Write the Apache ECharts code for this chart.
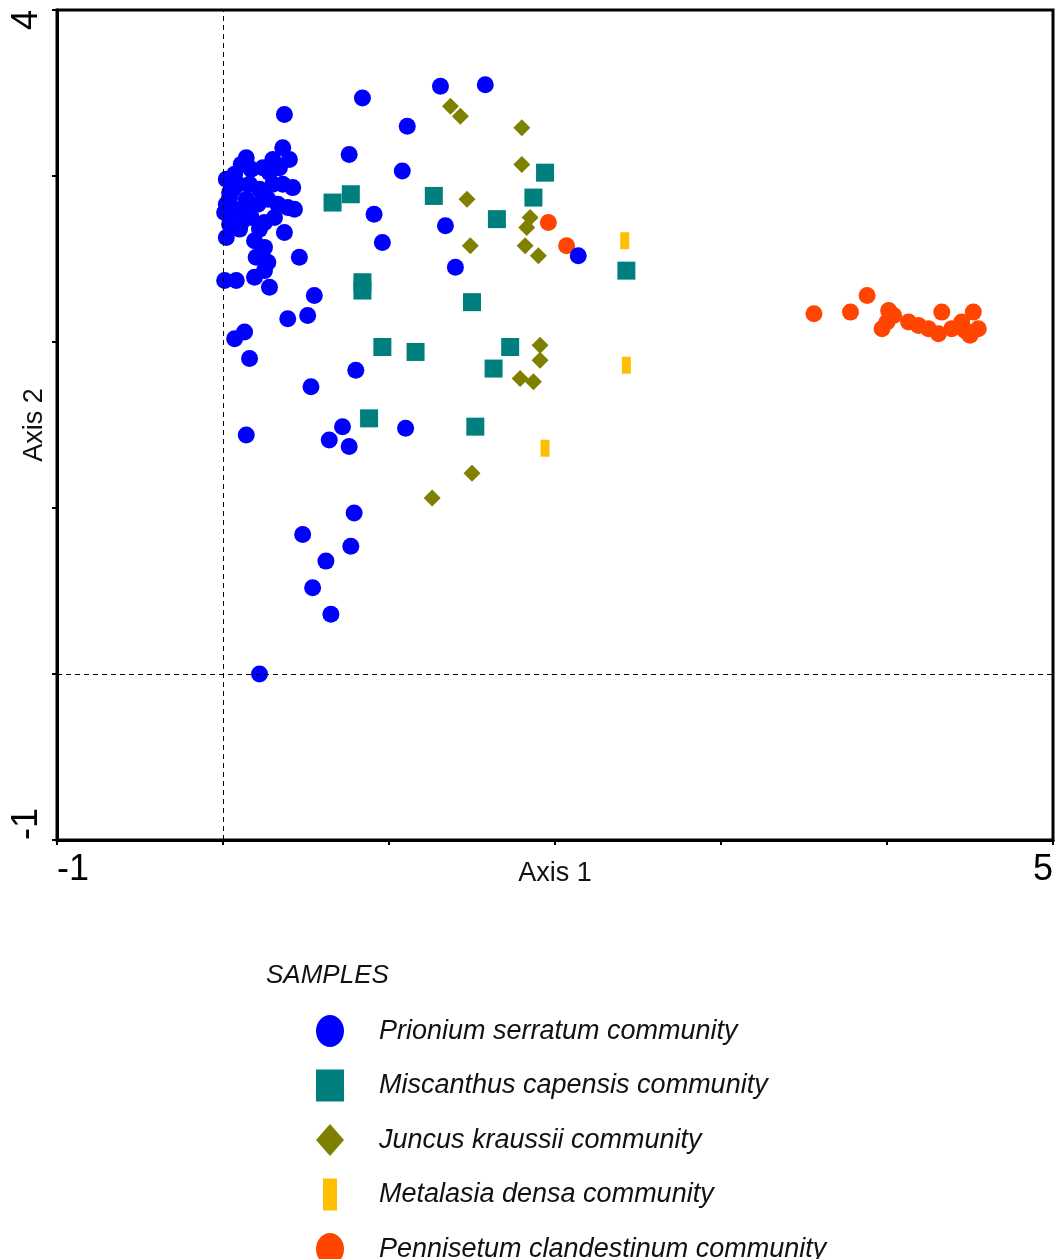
<!DOCTYPE html>
<html>
<head>
<meta charset="utf-8">
<script src="https://cdn.jsdelivr.net/npm/echarts@6/dist/echarts.min.js"></script>
<style>
html,body{margin:0;padding:0;background:#fff;}
#chart{width:1056px;height:1259px;}
</style>
</head>
<body>
<div id="chart"></div>
<script>
// ---- data (Axis 1, Axis 2 scores) ----
const seriesNames = [
  'Prionium serratum community',
  'Miscanthus capensis community',
  'Juncus kraussii community',
  'Metalasia densa community',
  'Pennisetum clandestinum community'
];
const prioniumPts = [
  [0.37,3.37],[0.84,3.47],[1.31,3.54],[1.58,3.55],[1.11,3.30],[0.76,3.13],[1.08,3.03],
  [0.91,2.77],[1.34,2.70],[0.96,2.60],[1.40,2.45],[2.14,2.52],[0.46,2.51],[0.55,2.28],
  [0.51,2.16],[0.39,2.14],[0.07,2.02],[0.13,2.06],[0.16,1.90],[0.80,1.83],[0.53,1.73],
  [0.14,1.44],[0.72,1.49],[0.64,1.41],[0.76,1.37],[1.10,1.48],[0.79,0.97],[0.48,0.84],
  [0.77,0.77],[0.62,0.68],[0.54,0.52],[0.65,0.36],[0.22,0.00],
  [0.14,3.11],[0.11,3.07],[0.07,3.01],[0.02,2.98],[0.17,3.04],[0.24,3.05],[0.28,3.02],
  [0.09,2.95],[0.04,2.90],[0.16,2.95],[0.22,2.92],[0.30,2.95],[0.36,2.95],[0.42,2.93],
  [0.02,2.83],[0.01,2.78],[0.07,2.80],[0.14,2.86],[0.21,2.83],[0.27,2.86],[0.33,2.83],
  [0.39,2.81],[0.43,2.80],[0.04,2.71],[0.11,2.72],[0.17,2.75],[0.25,2.72],[0.31,2.75],
  [0.37,2.66],[0.02,2.63],[0.19,2.61],[0.25,2.57],[0.20,2.51],[0.27,2.48],[0.25,2.43],
  [0.19,2.39],[0.28,2.33],[0.01,2.37],[0.08,2.37],[0.36,3.17],[0.40,3.10],[0.30,3.10],
  [0.34,3.05],[0.04,2.87],[0.10,2.68],[0.22,2.68],[0.12,2.80],[0.06,2.92]
];
const miscanthusPts = [
  [0.66,2.84],[0.77,2.89],[1.27,2.88],[1.65,2.74],[0.84,2.36],[0.84,2.31],[1.50,2.24],
  [1.94,3.02],[1.87,2.87],[2.43,2.43],[0.96,1.97],[1.16,1.94],[1.73,1.97],[1.63,1.84],
  [0.88,1.54],[1.52,1.49]
];
const juncusPts = [
  [1.37,3.42],[1.43,3.36],[1.80,3.29],[1.80,3.07],[1.47,2.86],[1.85,2.75],[1.83,2.69],
  [1.49,2.58],[1.82,2.58],[1.90,2.52],[1.91,1.98],[1.91,1.89],[1.79,1.78],[1.87,1.76],
  [1.50,1.21],[1.26,1.06]
];
const metalasiaPts = [[2.42,2.61],[2.43,1.86],[1.94,1.36]];
const pennisetumPts = [
  [1.96,2.72],[2.07,2.58],[3.56,2.17],[3.78,2.18],[3.88,2.28],[4.01,2.19],[4.04,2.16],
  [3.97,2.08],[4.00,2.12],[4.13,2.12],[4.19,2.10],[4.25,2.08],[4.33,2.18],[4.31,2.05],
  [4.39,2.08],[4.47,2.07],[4.45,2.12],[4.52,2.18],[4.55,2.08],[4.50,2.04]
];
const xTickLabels = {'-1':'-1','5':'5'};
const yTickLabels = {'4':'4','-1':'-1'};
const legendTitle = 'SAMPLES';

// ---- styling ----
const FONT = '"Liberation Sans", Arial, sans-serif';
const colors = ['#0000FF','#007F7F','#808000','#FFBF00','#FF4500'];
const chart = echarts.init(document.getElementById('chart'), null, {renderer:'canvas'});

const legendIcons = [
  'path://M0,16a14,16 0 1,0 28,0a14,16 0 1,0 -28,0z',
  'path://M0,0h28v32h-28z',
  'path://M14,0L28,16L14,32L0,16z',
  'path://M0,0h14v32h-14z',
  'path://M0,16a14,16 0 1,0 28,0a14,16 0 1,0 -28,0z'
];

const option = {
  animation:false,
  backgroundColor:'#fff',
  title:{
    text: legendTitle,
    left: 261, top: 958,
    textStyle:{fontFamily:FONT, fontStyle:'italic', fontWeight:'normal', fontSize:26, color:'#111'}
  },
  legend:{
    orient:'vertical',
    left: 311, top: 1010, height: 320,
    itemWidth: 88, itemHeight: 32, itemGap: 22.5,
    symbolKeepAspect: true,
    selectedMode:false,
    textStyle:{fontFamily:FONT, fontStyle:'italic', fontSize:27, color:'#111'},
    data: seriesNames.map((n,i)=>({name:n, icon:legendIcons[i], itemStyle:{color:colors[i]}}))
  },
  grid:{left:57, right:3, top:10, bottom:419, outerBoundsMode:'none', containLabel:false,
        show:true, borderColor:'#000', borderWidth:3, backgroundColor:'transparent'},
  xAxis:{
    type:'value', min:-1, max:5, interval:1,
    name:'Axis 1', nameLocation:'middle', nameGap:20, nameMoveOverlap:false,
    nameTextStyle:{fontFamily:FONT, fontSize:27, color:'#111'},
    axisLine:{onZero:false, lineStyle:{color:'#000', width:3}},
    axisTick:{show:true, length:5, lineStyle:{color:'#000', width:2}},
    splitLine:{show:false},
    axisLabel:{
      fontFamily:FONT, fontSize:36, color:'#000', margin:12,
      alignMinLabel:'left', alignMaxLabel:'right',
      formatter: v => xTickLabels[String(v)] || ''
    }
  },
  yAxis:{
    type:'value', min:-1, max:4, interval:1,
    name:'Axis 2', nameLocation:'middle', nameGap:9, nameRotate:90, nameMoveOverlap:false,
    nameTextStyle:{fontFamily:FONT, fontSize:27, color:'#111'},
    axisLine:{onZero:false, lineStyle:{color:'#000', width:3}},
    axisTick:{show:true, length:5, lineStyle:{color:'#000', width:2}},
    splitLine:{show:false},
    axisLabel:{
      fontFamily:FONT, fontSize:36, color:'#000', rotate:90, margin:12,
      alignMinLabel:'left', alignMaxLabel:'right',
      formatter: v => yTickLabels[String(v)] || ''
    }
  },
  series:[
    {
      name: seriesNames[4], type:'scatter', data: pennisetumPts,
      symbol:'circle', symbolSize:17, itemStyle:{color:colors[4], opacity:1},
      markLine:{
        silent:true, symbol:'none', label:{show:false},
        lineStyle:{color:'#000', width:1, type:[5,4]},
        data:[{xAxis:0},{yAxis:0}]
      }
    },
    {name: seriesNames[3], type:'scatter', data: metalasiaPts, symbol:'rect', symbolSize:[9,17], itemStyle:{color:colors[3], opacity:1}},
    {name: seriesNames[2], type:'scatter', data: juncusPts, symbol:'diamond', symbolSize:17, itemStyle:{color:colors[2], opacity:1}},
    {name: seriesNames[1], type:'scatter', data: miscanthusPts, symbol:'rect', symbolSize:18, itemStyle:{color:colors[1], opacity:1}},
    {name: seriesNames[0], type:'scatter', data: prioniumPts, symbol:'circle', symbolSize:17, itemStyle:{color:colors[0], opacity:1}}
  ]
};
chart.setOption(option);
</script>
</body>
</html>
